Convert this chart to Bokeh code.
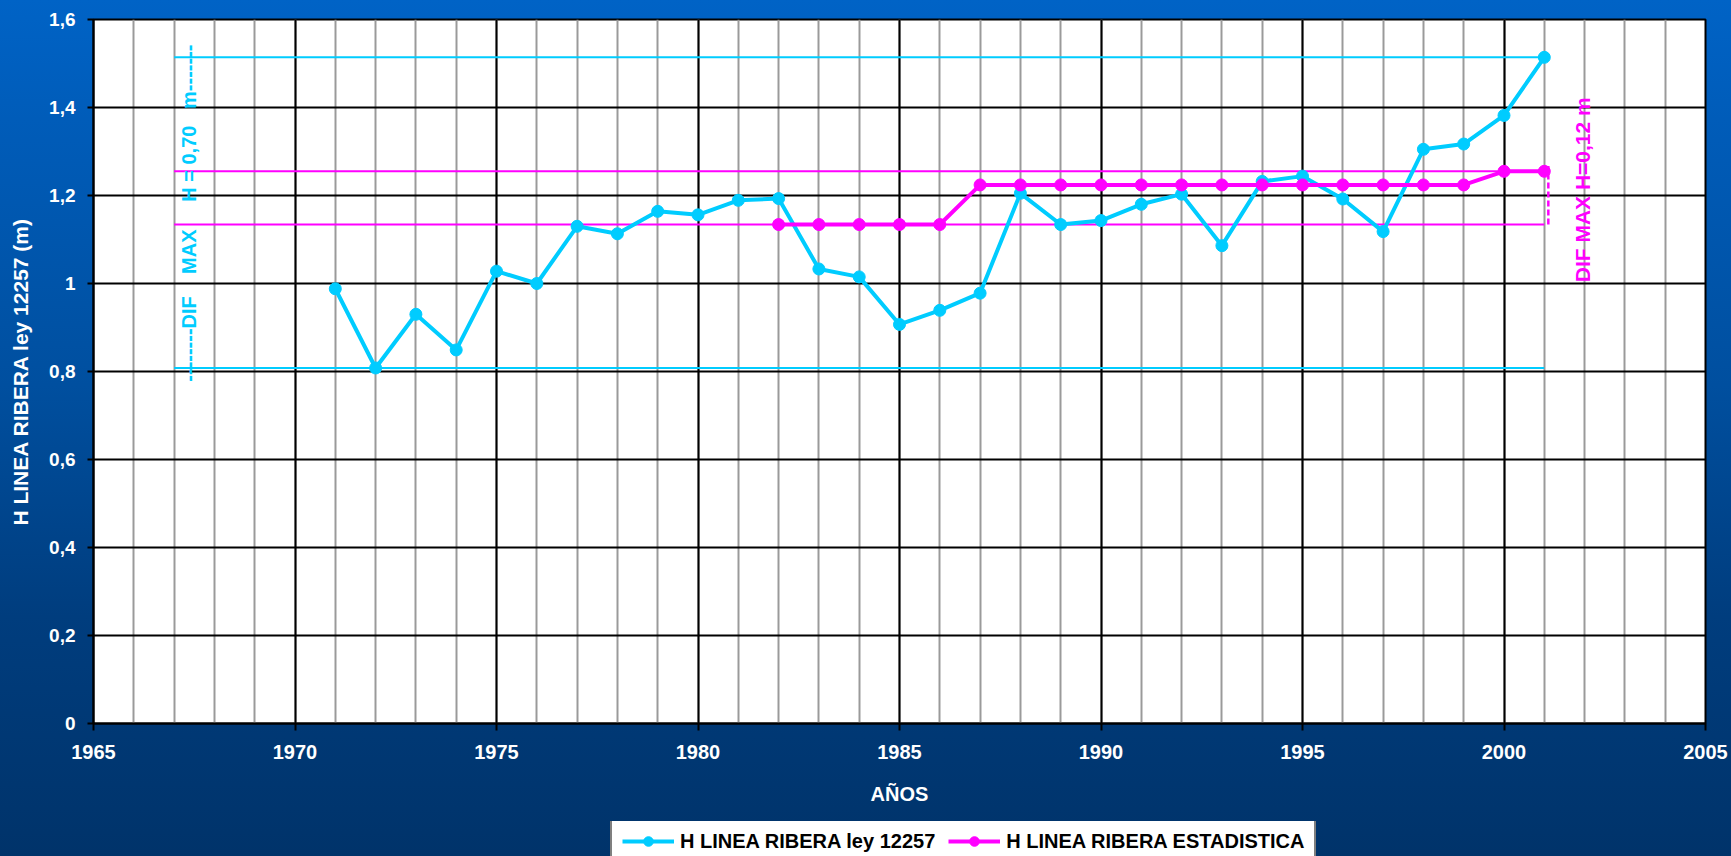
import math
from bokeh.plotting import figure
from bokeh.layouts import column
from bokeh.models import (ColumnDataSource, Legend, LegendItem, SingleIntervalTicker,
                          FixedTicker, Label, GlobalInlineStyleSheet)
from bokeh.embed import file_html
from bokeh.resources import INLINE

# ---------------- data ----------------
years_ley = [1971, 1972, 1973, 1974, 1975, 1976, 1977, 1978, 1979, 1980,
             1981, 1982, 1983, 1984, 1985, 1986, 1987, 1988, 1989, 1990,
             1991, 1992, 1993, 1994, 1995, 1996, 1997, 1998, 1999, 2000, 2001]
h_ley = [0.988, 0.808, 0.930, 0.849, 1.028, 1.000, 1.130, 1.113, 1.164, 1.156,
         1.189, 1.193, 1.033, 1.015, 0.907, 0.939, 0.978, 1.205, 1.134, 1.143,
         1.180, 1.203, 1.086, 1.232, 1.244, 1.192, 1.118, 1.305, 1.317, 1.382, 1.514]

years_est = [1982, 1983, 1984, 1985, 1986, 1987, 1988, 1989, 1990, 1991,
             1992, 1993, 1994, 1995, 1996, 1997, 1998, 1999, 2000, 2001]
h_est = [1.134, 1.134, 1.134, 1.134, 1.134, 1.224, 1.224, 1.224, 1.224, 1.224,
         1.224, 1.224, 1.224, 1.224, 1.224, 1.224, 1.224, 1.224, 1.255, 1.255]

y_ticks = [0, 0.2, 0.4, 0.6, 0.8, 1.0, 1.2, 1.4, 1.6]
y_tick_labels = ["0", "0,2", "0,4", "0,6", "0,8", "1", "1,2", "1,4", "1,6"]

series_names = ["H LINEA RIBERA ley 12257", "H LINEA RIBERA ESTADISTICA"]
ref_year_start = 1967
ref_year_end = 2001
NB = "\u00a0"
note_ley = ("--------DIF" + NB * 4 + "MAX" + NB * 5 + "H" + NB + "=" + NB + "0,70"
            + NB * 3 + "m-------")
note_est = "DIF" + NB + "MAX" + NB + "H=0,12" + NB + "m"

# ---------------- styles ----------------
CYAN = "#00CCFF"
MAGENTA = "#FF00FF"
FONT = "Liberation Sans"

p = figure(width=1731, height=821, frame_width=1612, frame_height=704,
           x_range=(1965, 2005), y_range=(0, 1.6),
           output_backend="svg", toolbar_location=None,
           min_border_left=93, min_border_right=26, min_border_top=19, min_border_bottom=98)
p.border_fill_color = None
p.background_fill_color = "white"
p.outline_line_color = "black"
p.outline_line_width = 2
p.stylesheets = [GlobalInlineStyleSheet(css=(
    "html, body { overflow: hidden; background: linear-gradient(180deg, #0063c6 0%, "
    "#005cb9 14%, #004f9f 45%, #003d7e 72%, #00336a 100%); }"))]

# axes
xt = SingleIntervalTicker(interval=5, num_minor_ticks=5)
p.xaxis.ticker = xt
p.xgrid.ticker = xt
yt = FixedTicker(ticks=y_ticks)
p.yaxis.ticker = yt
p.ygrid.ticker = yt
p.yaxis.major_label_overrides = dict(zip(y_ticks, y_tick_labels))

for ax in (p.xaxis[0], p.yaxis[0]):
    ax.axis_line_color = "black"
    ax.axis_line_width = 2
    ax.major_tick_line_color = "black"
    ax.major_tick_line_width = 2
    ax.major_tick_in = 0
    ax.minor_tick_line_color = None
    ax.major_label_text_color = "white"
    ax.major_label_text_font = FONT
    ax.major_label_text_font_style = "bold"
    ax.axis_label_text_color = "white"
    ax.axis_label_text_font = FONT
    ax.axis_label_text_font_style = "bold"

p.xaxis.major_tick_out = 7
p.xaxis.major_label_standoff = 14
p.xaxis.major_label_text_font_size = "20px"
p.xaxis.axis_label = "AÑOS"
p.xaxis.axis_label_text_font_size = "20px"
p.xaxis.axis_label_standoff = 21

p.yaxis.major_tick_out = 6
p.yaxis.major_label_standoff = 12
p.yaxis.major_label_text_font_size = "19px"
p.yaxis.axis_label = "H LINEA RIBERA ley 12257 (m)"
p.yaxis.axis_label_text_font_size = "21px"
p.yaxis.axis_label_standoff = 14

p.xgrid.grid_line_color = "black"
p.xgrid.grid_line_width = 2
p.xgrid.minor_grid_line_color = "#9a9a9a"
p.xgrid.minor_grid_line_width = 2
p.ygrid.grid_line_color = "black"
p.ygrid.grid_line_width = 2

# reference lines (max / min of each series)
ref = ColumnDataSource(dict(
    x0=[ref_year_start] * 4, x1=[ref_year_end] * 4,
    y=[max(h_ley), min(h_ley), max(h_est), min(h_est)],
    c=[CYAN, CYAN, MAGENTA, MAGENTA]))
p.segment(x0="x0", y0="y", x1="x1", y1="y", color="c", line_width=2, source=ref)

# series
s1 = ColumnDataSource(dict(x=years_ley, y=h_ley))
s2 = ColumnDataSource(dict(x=years_est, y=h_est))
p.line("x", "y", source=s1, color=CYAN, line_width=4)
p.scatter("x", "y", source=s1, color=CYAN, size=12)
p.line("x", "y", source=s2, color=MAGENTA, line_width=4)
p.scatter("x", "y", source=s2, color=MAGENTA, size=12)

# dashed difference marker for statistical series
p.segment(x0=[ref_year_end + 0.1], y0=[min(h_est)], x1=[ref_year_end + 0.1], y1=[max(h_est) + 0.012],
          color=MAGENTA, line_width=2.5, line_dash="6 3")

# annotations
p.add_layout(Label(x=1967.38, y=1.16, text=note_ley, angle=math.pi / 2,
                   text_align="center", text_baseline="middle",
                   text_color=CYAN, text_font=FONT, text_font_style="bold",
                   text_font_size="20px"))
p.add_layout(Label(x=2001.96, y=1.213, text=note_est, angle=math.pi / 2,
                   text_align="center", text_baseline="middle",
                   text_color=MAGENTA, text_font=FONT, text_font_style="bold",
                   text_font_size="21px"))

# ---------------- legend strip (separate figure below the chart) ----------------
# same series drawn in a strip whose ranges exclude them: only the legend shows
pl = figure(width=1731, height=35, x_range=(0, 1), y_range=(0, 1),
            output_backend="svg", toolbar_location=None,
            x_axis_type=None, y_axis_type=None, min_border=0)
pl.border_fill_color = None
pl.background_fill_color = None
pl.outline_line_color = None
pl.grid.visible = False
g1l = pl.line("x", "y", source=s1, color=CYAN, line_width=4)
g1s = pl.scatter("x", "y", source=s1, color=CYAN, size=12)
g2l = pl.line("x", "y", source=s2, color=MAGENTA, line_width=4)
g2s = pl.scatter("x", "y", source=s2, color=MAGENTA, size=12)

legend = Legend(items=[LegendItem(label=series_names[0], renderers=[g1l, g1s]),
                       LegendItem(label=series_names[1], renderers=[g2l, g2s])],
                orientation="horizontal", location=(517, -9),
                label_text_font=FONT, label_text_font_style="bold",
                label_text_font_size="20px", label_text_color="black",
                glyph_width=52, glyph_height=24, label_height=24,
                label_standoff=6, spacing=13, padding=10, margin=0,
                border_line_color="black", border_line_width=2,
                background_fill_color="white", background_fill_alpha=1.0)
pl.add_layout(legend)

layout = column(p, pl, spacing=0)
open("out.html", "w").write(file_html(layout, INLINE))
